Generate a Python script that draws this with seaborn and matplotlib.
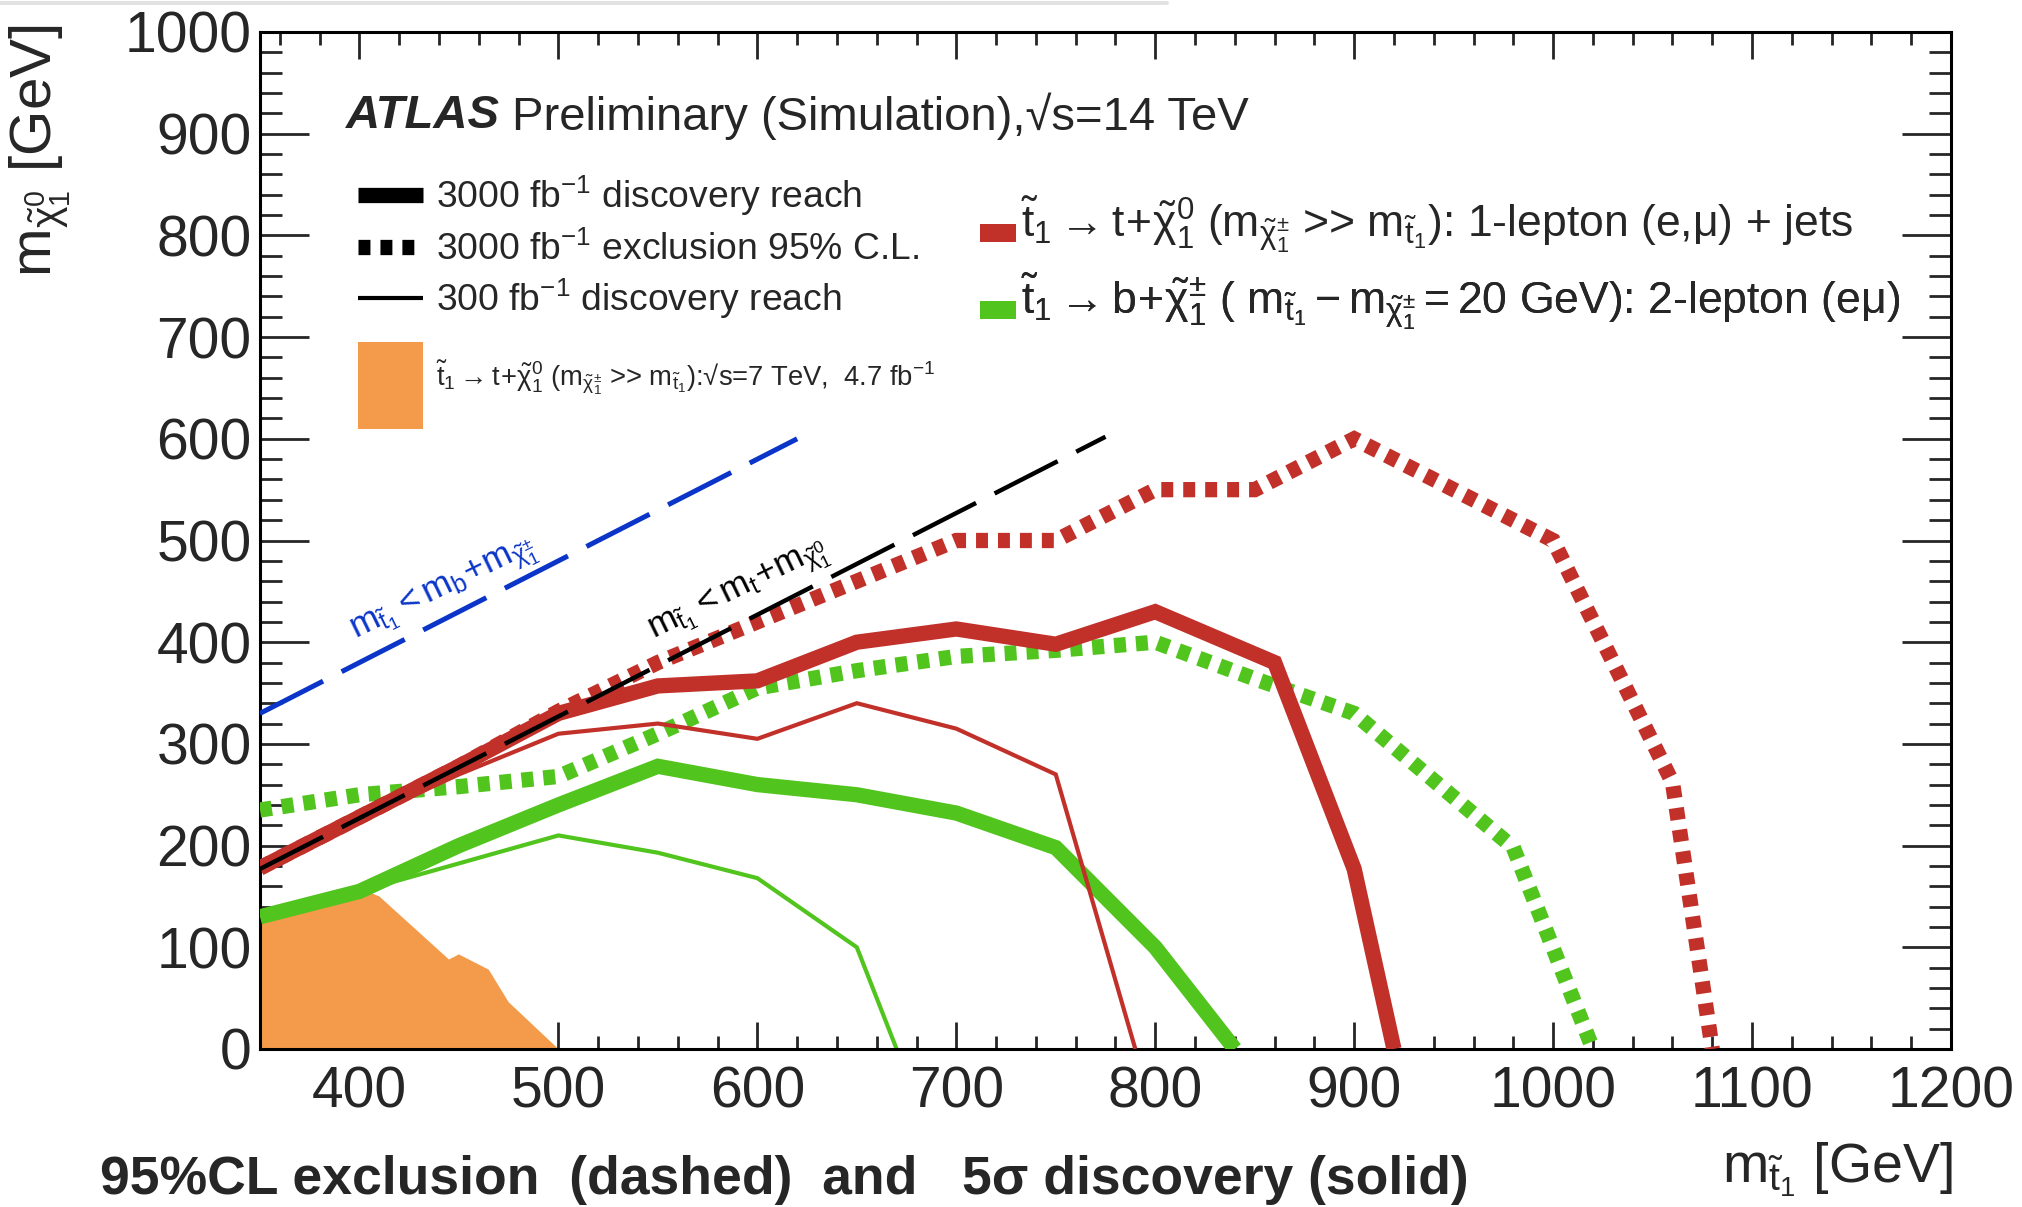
import matplotlib
matplotlib.use('Agg')
import matplotlib.pyplot as plt
import seaborn as sns
import pandas as pd
from matplotlib.lines import Line2D
from matplotlib.patches import Patch, Rectangle
from matplotlib.legend_handler import HandlerPatch
from matplotlib.ticker import MultipleLocator

# ---------------- data ----------------
x_tick_values = [400, 500, 600, 700, 800, 900, 1000, 1100, 1200]
y_tick_values = [0, 100, 200, 300, 400, 500, 600, 700, 800, 900, 1000]

# 3000 fb-1 exclusion (dotted), 1-lepton (red)
red_excl_x = [350, 400, 450, 500, 550, 600, 650, 700, 750, 800, 850, 900, 1000, 1060, 1080]
red_excl_y = [178, 228, 278, 332, 380, 420, 460, 500, 500, 550, 550, 600, 500, 262, 0]
# 3000 fb-1 discovery (thick), red
red_disc_x = [350, 400, 450, 500, 550, 600, 650, 700, 750, 800, 860, 900, 920]
red_disc_y = [178, 228, 278, 330, 357, 362, 400, 413, 398, 430, 380, 177, 0]
# 300 fb-1 discovery (thin), red
red_thin_x = [350, 400, 450, 500, 550, 600, 650, 700, 750, 790]
red_thin_y = [178, 225, 270, 310, 320, 305, 340, 315, 270, 0]

# green: 2-lepton
green_excl_x = [350, 400, 450, 500, 550, 600, 650, 700, 750, 800, 850, 900, 980, 1020]
green_excl_y = [235, 250, 258, 268, 310, 355, 372, 386, 392, 400, 364, 330, 198, 0]
green_disc_x = [350, 400, 450, 500, 550, 600, 650, 700, 750, 800, 840]
green_disc_y = [130, 155, 200, 240, 278, 260, 250, 232, 198, 100, 0]
green_thin_x = [350, 400, 500, 550, 600, 650, 670]
green_thin_y = [130, 155, 210, 193, 168, 100, 0]

# 7 TeV, 4.7 fb-1 excluded region (orange)
orange_x = [350, 350, 370, 400, 410, 445, 450, 465, 475, 500]
orange_y = [0, 132, 140, 158, 150, 88, 93, 78, 46, 0]

# kinematic boundaries
blue_x = [350, 620]
blue_y = [330, 600]
black_x = [350, 775]
black_y = [177, 602]

# ---------------- style ----------------
sns.set_theme(style='ticks')
plt.rcParams['font.family'] = ['Liberation Sans', 'DejaVu Sans']
plt.rcParams['mathtext.fontset'] = 'custom'
plt.rcParams['mathtext.rm'] = 'Liberation Sans'
plt.rcParams['mathtext.it'] = 'Liberation Sans:italic'
plt.rcParams['mathtext.bf'] = 'Liberation Sans:bold'
plt.rcParams['lines.scale_dashes'] = False

RED = '#C1312A'
GREEN = '#52C41E'
ORANGE = '#F39B4A'
BLUE = '#0A35C8'
MU = '\u03bc'

W, H = 2022, 1207
fx = lambda px: px / W
fy = lambda py: 1 - py / H
PT = 72 / 100  # points per pixel

fig = plt.figure(figsize=(W / 100, H / 100), dpi=100)
fig.patch.set_facecolor('white')
# faint border line at the top of the screenshot
fig.add_artist(Line2D([0, fx(1167)], [fy(3), fy(3)], color='#E2E2E2', lw=4 * PT))

ax = fig.add_axes([fx(260), fy(1049), (1951 - 260) / W, (1049 - 32) / H])
ax.set_facecolor('white')

LW_THICK = 11.0
LW_THIN = 3.0
DOT = (0, (8.6, 7.2))
DASH = (0, (51, 15))

ax.fill(orange_x, orange_y, color=ORANGE, lw=0, zorder=1)


def line(x, y, color, lw, ls='-', z=2):
    df = pd.DataFrame({'x': x, 'y': y})
    sns.lineplot(data=df, x='x', y='y', sort=False, estimator=None, color=color,
                 linewidth=lw, linestyle=ls, ax=ax, zorder=z,
                 dash_capstyle='butt', solid_capstyle='butt',
                 solid_joinstyle='miter', dash_joinstyle='miter')


line(green_thin_x, green_thin_y, GREEN, LW_THIN, z=2)
line(green_disc_x, green_disc_y, GREEN, LW_THICK, z=3)
line(green_excl_x, green_excl_y, GREEN, LW_THICK, DOT, z=4)
line(red_thin_x, red_thin_y, RED, LW_THIN, z=5)
line(red_disc_x, red_disc_y, RED, LW_THICK, z=6)
line(red_excl_x, red_excl_y, RED, LW_THICK, DOT, z=7)
line(black_x, black_y, 'black', 3.2, DASH, z=8)
line(blue_x, blue_y, BLUE, 3.6, DASH, z=8)

ax.set_xlim(350, 1200)
ax.set_ylim(0, 1000)
ax.set_xlabel('')
ax.set_ylabel('')
ax.set_xticks(x_tick_values)
ax.set_xticklabels([str(v) for v in x_tick_values])
ax.set_yticks(y_tick_values)
ax.set_yticklabels([str(v) for v in y_tick_values])
ax.xaxis.set_minor_locator(MultipleLocator(20))
ax.yaxis.set_minor_locator(MultipleLocator(20))
FS_TICK = 41
ax.tick_params(axis='x', which='major', direction='in', length=19.5, width=2.0,
               top=True, bottom=True, labelsize=FS_TICK, pad=12)
ax.tick_params(axis='x', which='minor', direction='in', length=9.5, width=2.0,
               top=True, bottom=True)
ax.tick_params(axis='y', which='major', direction='in', length=35, width=2.0,
               left=True, right=True, labelsize=FS_TICK, pad=6)
ax.tick_params(axis='y', which='minor', direction='in', length=16, width=2.0,
               left=True, right=True)
for s in ax.spines.values():
    s.set_linewidth(2.2)
    s.set_color('black')
    s.set_visible(True)

# axis titles
fig.text(fx(40), fy(24), r'$\mathrm{m_{\tilde{\chi}^{0}_{1}}}$ [GeV]', rotation=90,
         ha='center', va='top', fontsize=42)
fig.text(fx(1953), fy(1140), r'$\mathrm{m_{\tilde{t}_{1}}}$ [GeV]',
         ha='right', va='top', fontsize=40)

# header
fig.text(fx(346), fy(116), 'ATLAS', fontweight='bold', fontstyle='italic',
         ha='left', va='center', fontsize=34)
fig.text(fx(512), fy(116), 'Preliminary (Simulation),\u221as=14 TeV',
         ha='left', va='center', fontsize=34)

# bottom comment
fig.text(fx(100), fy(1180), '95%CL exclusion  (dashed)  and   5\u03c3 discovery (solid)',
         fontweight='bold', ha='left', va='center', fontsize=38.5)

# kinematic-boundary annotations
ax.text(398, 403, r'$\mathrm{m_{\tilde{t}_1} < m_b\!+\!m_{\tilde{\chi}^{\pm}_1}}$', color=BLUE,
        rotation=26, rotation_mode='anchor', ha='left', va='baseline', fontsize=25.5, zorder=9)
ax.text(548, 403, r'$\mathrm{m_{\tilde{t}_1} < m_t\!+\!m_{\tilde{\chi}^{0}_1}}$', color='black',
        rotation=26, rotation_mode='anchor', ha='left', va='baseline', fontsize=25.5, zorder=9)


# legend box handle: explicit offset/height (px) relative to the text baseline
def box_handler(y0_px, h_px):
    def make(legend, orig_handle, xdescent, ydescent, width, height, fontsize):
        return Rectangle((-xdescent, y0_px * PT), width, h_px * PT)
    return HandlerPatch(patch_func=make)


def add_leg(handle, label, x_px, y_px, fs, hl_px, pad_px, handler=None, hh=0.7):
    fs_px = fs / PT
    kw = {}
    if handler is not None:
        kw['handler_map'] = {type(handle): handler}
    leg = ax.legend([handle], [label], loc='center left',
                    bbox_to_anchor=(fx(x_px), fy(y_px)), bbox_transform=fig.transFigure,
                    frameon=False, fontsize=fs, handlelength=hl_px / fs_px,
                    handleheight=hh, handletextpad=pad_px / fs_px,
                    borderpad=0, borderaxespad=0, **kw)
    ax.add_artist(leg)
    return leg


FS_LEG = 26.8
add_leg(Line2D([], [], color='black', lw=LW_THICK, solid_capstyle='butt'),
        r'3000 fb$^{\mathrm{-1}}$ discovery reach', 358, 196, FS_LEG, 65, 13)
add_leg(Line2D([], [], color='black', lw=LW_THICK, linestyle=DOT, dash_capstyle='butt'),
        r'3000 fb$^{\mathrm{-1}}$ exclusion 95% C.L.', 358, 250, FS_LEG, 65, 13)
add_leg(Line2D([], [], color='black', lw=LW_THIN, solid_capstyle='butt'),
        r'300 fb$^{\mathrm{-1}}$ discovery reach', 358, 299, FS_LEG, 65, 13)
add_leg(Patch(facecolor=ORANGE, edgecolor='none'),
        r'$\mathrm{\tilde{t}_1 \rightarrow t\!+\!\tilde{\chi}^{0}_{1}\ (m_{\tilde{\chi}^{\pm}_{1}}}$ >> '
        r'$\mathrm{m_{\tilde{t}_1})}$:' '\u221as=7 TeV,  4.7 fb$^{\\mathrm{-1}}$',
        358, 378, 19.7, 65, 13, handler=box_handler(-43, 87), hh=0.3)

FS_R = 32
add_leg(Patch(facecolor=RED, edgecolor='none'),
        r'$\mathrm{\tilde{t}_1 \rightarrow t\!+\!\tilde{\chi}^{0}_{1}\ (m_{\tilde{\chi}^{\pm}_{1}}}$ >> '
        r'$\mathrm{m_{\tilde{t}_1})}$: 1-lepton (e,' + MU + ') + jets',
        980, 225, FS_R, 36, 5, handler=box_handler(-5, 18), hh=0.3)
add_leg(Patch(facecolor=GREEN, edgecolor='none'),
        r'$\mathrm{\tilde{t}_1 \rightarrow b\!+\!\tilde{\chi}^{\pm}_{1}\ (\ m_{\tilde{t}_1} - m_{\tilde{\chi}^{\pm}_{1}} = 20\ GeV)}$: 2-lepton (e' + MU + ')',
        980, 302, FS_R, 36, 5, handler=box_handler(-5, 18), hh=0.3)

fig.savefig('out.png', dpi=100, facecolor='white')
